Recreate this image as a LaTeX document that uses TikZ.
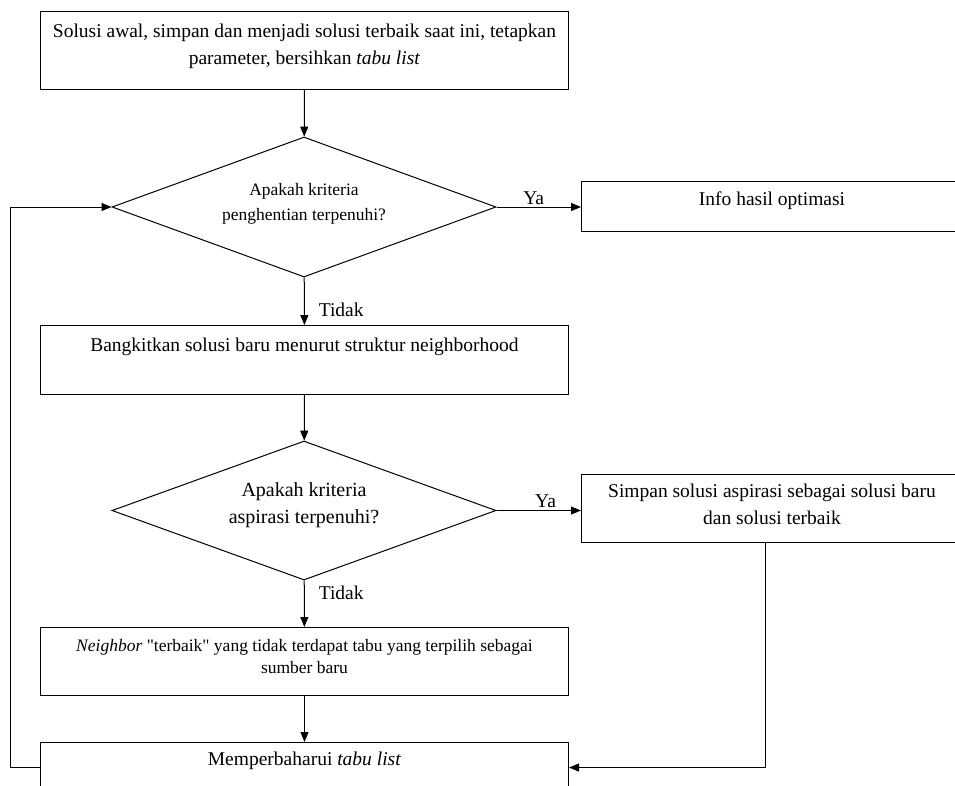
\documentclass[tikz,border=0pt]{standalone}
\usepackage{fontspec}
\setmainfont{Liberation Serif}
\usepackage{tikz}
\usetikzlibrary{arrows.meta,positioning,shapes.geometric}

\tikzset{
    procbox/.style={draw, rectangle, line width=1pt, inner sep=0pt, anchor=north west},
    decbox/.style={draw, diamond, line width=1pt, inner sep=0pt, aspect=2.74},
    boxtext/.style={anchor=north, inner sep=0pt, align=center,
        font=\fontsize{19.5}{27}\selectfont},
    smalltext/.style={boxtext, font=\fontsize{17.5}{25}\selectfont},
    flowlbl/.style={inner sep=2pt, font=\fontsize{19.5}{27}\selectfont},
    flow/.style={-{Triangle[length=10pt,width=8pt]}, line width=1pt}
}

\begin{document}
\begin{tikzpicture}[x=1pt, y=-1pt]

\useasboundingbox (0,0) rectangle (955,785);
\clip (0,0) rectangle (955,785);

% ---------------------------------------------------------
% Start
% ---------------------------------------------------------

\node[procbox, minimum width=528pt, minimum height=78pt]
    (init) at (40,11) {};
\node[boxtext] (initText) at ([yshift=-13pt]init.north)
    {Solusi awal, simpan dan menjadi solusi terbaik saat ini, tetapkan\\
     parameter, bersihkan \textit{tabu list}};

% ---------------------------------------------------------
% Stopping criterion
% ---------------------------------------------------------

\node[decbox, minimum width=384pt, minimum height=140pt]
    (stop) at (304,207) {};
\node[smalltext] (stopText) at (304,183)
    {Apakah kriteria\\penghentian terpenuhi?};

\node[procbox, minimum width=381pt, minimum height=50pt]
    (info) at (581,181) {};
\node[boxtext] (infoText) at ([yshift=-11pt]info.north)
    {Info hasil optimasi};

% ---------------------------------------------------------
% Neighbourhood
% ---------------------------------------------------------

\node[procbox, minimum width=528pt, minimum height=69pt]
    (gen) at (40,325) {};
\node[boxtext] (genText) at ([yshift=-13pt]gen.north)
    {Bangkitkan solusi baru menurut struktur neighborhood};

% ---------------------------------------------------------
% Aspiration criterion
% ---------------------------------------------------------

\node[decbox, minimum width=384pt, minimum height=139pt]
    (asp) at (304,510.5) {};
\node[boxtext, font=\fontsize{20}{27}\selectfont] (aspText) at (304,482)
    {Apakah kriteria\\aspirasi terpenuhi?};

\node[procbox, minimum width=381pt, minimum height=68pt]
    (aspir) at (581,474) {};
\node[boxtext] (aspirText) at ([yshift=-10pt]aspir.north)
    {Simpan solusi aspirasi sebagai solusi baru\\dan solusi terbaik};

% ---------------------------------------------------------
% Best non-tabu neighbour, update
% ---------------------------------------------------------

\node[procbox, minimum width=528pt, minimum height=68pt]
    (pick) at (40,627) {};
\node[smalltext, font=\fontsize{17.5}{22}\selectfont] (pickText)
    at ([yshift=-12pt]pick.north)
    {\textit{Neighbor} \textquotedbl terbaik\textquotedbl{} yang tidak terdapat tabu yang terpilih sebagai\\
     sumber baru};

\node[procbox, minimum width=528pt, minimum height=50pt]
    (upd) at (40,742) {};
\node[boxtext] (updText) at ([yshift=-10pt]upd.north)
    {Memperbaharui \textit{tabu list}};

% ---------------------------------------------------------
% Connectors
% ---------------------------------------------------------

\draw[flow] (init) -- (stop);

\draw[flow] (stop.east) -- node[flowlbl, above, pos=0.44] {Ya}
    (stop.east -| info.west);

\draw[flow] (stop) -- node[flowlbl, right=12pt, pos=0.69] {Tidak} (gen);

\draw[flow] (gen) -- (asp);

\draw[flow] (asp.east) -- node[flowlbl, above, pos=0.58] {Ya}
    (asp.east -| aspir.west);

\draw[flow] (asp) -- node[flowlbl, right=12pt, pos=0.26] {Tidak} (pick);

\draw[flow] (pick) -- (upd);

% back to the stopping test
\draw[flow] (upd.west) -- ++(-30pt,0) |- (stop.west);

\draw[flow] ([xshift=-7pt]aspir.south) |- (upd.east);

\end{tikzpicture}
\end{document}
